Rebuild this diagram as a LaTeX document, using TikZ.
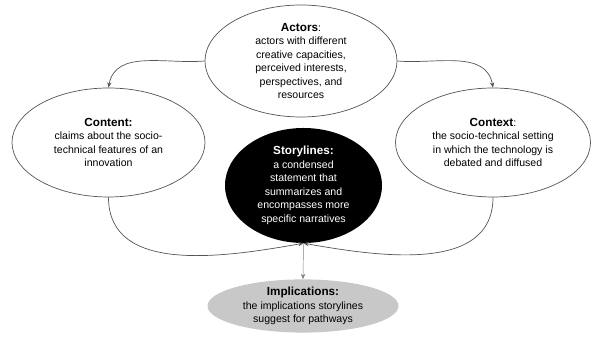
\documentclass[tikz,border=0pt]{standalone}
\usepackage{fontspec}
\setmainfont{Liberation Sans}
\usepackage{xcolor}
\usepackage{tikz}
\usetikzlibrary{positioning,arrows.meta,shapes.geometric}
\definecolor{lineg}{RGB}{85,85,85}
\definecolor{impgray}{RGB}{200,200,200}
\newcommand{\ttl}[1]{{\fontsize{10}{13}\selectfont\bfseries #1}}
\tikzset{
  oval/.style={ellipse, draw=lineg, line width=0.6pt, fill=white, align=center, inner sep=0pt, font=\fontsize{9}{11.5}\selectfont},
  storyoval/.style={ellipse, fill=black, text=white, align=center, inner sep=0pt, font=\fontsize{9}{11.5}\selectfont},
  impoval/.style={ellipse, fill=impgray, align=center, inner sep=0pt, font=\fontsize{9}{11.5}\selectfont},
  arr/.style={-{Stealth[length=1.6mm,width=1.3mm]}, line width=0.6pt, draw=lineg},
}

\begin{document}
\begin{tikzpicture}
    \useasboundingbox (0,0) rectangle (18,10.23);
    \node[oval, minimum width=5.76cm, minimum height=3.36cm] (act) at (9.03,8.40) {\ttl{Actors}:\\ actors with different\\ creative capacities,\\ perceived interests,\\ perspectives, and\\ resources};
    \node[oval, minimum width=5.79cm, minimum height=3.27cm] (cont) at (3.255,5.955) {\ttl{Content:}\\ claims about the socio-\\ technical features of an\\ innovation};
    \node[oval, minimum width=5.85cm, minimum height=3.27cm] (ctx) at (14.79,5.955) {\ttl{Context}:\\ the socio-technical setting\\ in which the technology is\\ debated and diffused};
    \node[storyoval, minimum width=4.71cm, minimum height=3.45cm] (story) at (9.105,4.665) {\ttl{Storylines:}\\ a condensed\\ statement that\\ summarizes and\\ encompasses more\\ specific narratives};
    \node[impoval, minimum width=5.73cm, minimum height=1.44cm] (impl) at (9.09,1.05) {\ttl{Implications:}\\ the implications storylines\\ suggest for pathways};
    \draw[arr] (act.west) to[out=185,in=80] (cont.north);
    \draw[arr] (act.east) to[out=-5,in=100] (ctx.north);
    \draw[arr] (cont.south) to[out=-90,in=190] (story.south);
    \draw[arr] (ctx.south) to[out=-90,in=-10] (story.south);
    \draw[arr, draw=gray, line width=0.4pt] (story.south) -- (impl.north);
  \end{tikzpicture}
\end{document}
